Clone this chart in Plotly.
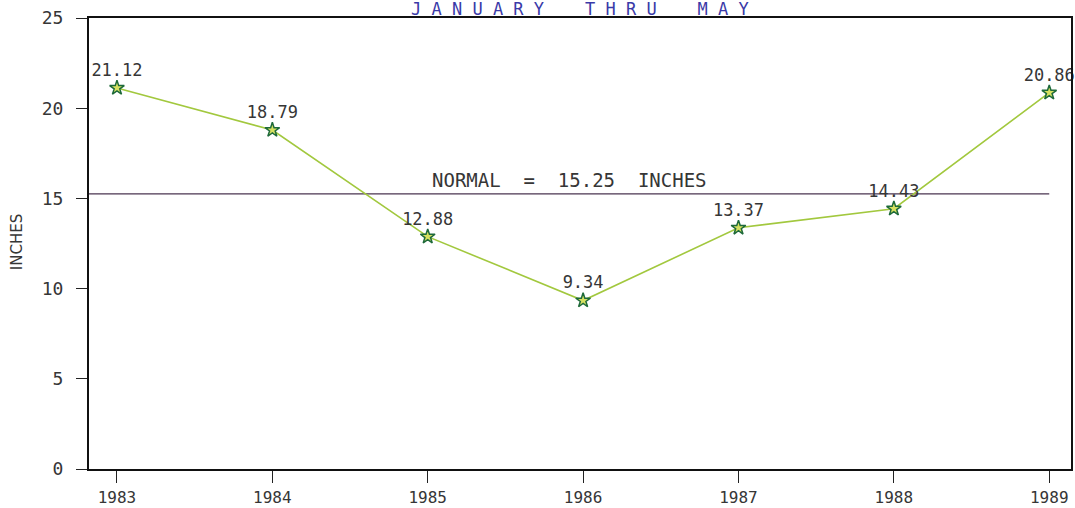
import plotly.graph_objects as go

years = ["1983", "1984", "1985", "1986", "1987", "1988", "1989"]
inches = [21.12, 18.79, 12.88, 9.34, 13.37, 14.43, 20.86]
labels = ["21.12", "18.79", "12.88", "9.34", "13.37", "14.43", "20.86"]
normal_value = 15.25
normal_label = "NORMAL  =  15.25  INCHES"
title_text = "J A N U A R Y    T H R U    M A Y"
y_ticks = [0, 5, 10, 15, 20, 25]

xi = list(range(len(years)))
mono = "DejaVu Sans Mono, Liberation Mono, monospace"
sans = "DejaVu Sans, Liberation Sans, sans-serif"
txt_color = "#363636"

fig = go.Figure()

# Normal line
fig.add_trace(go.Scatter(
    x=[-0.18, 6], y=[normal_value, normal_value], mode="lines",
    line=dict(color="#4a3550", width=1.3), hoverinfo="skip", showlegend=False,
))

fig.add_trace(go.Scatter(
    x=xi, y=inches, mode="lines+markers+text",
    line=dict(color="#a2c83e", width=1.6),
    marker=dict(symbol="star", size=11, color="#d6e060",
                line=dict(color="#1e6a3a", width=1.5)),
    text=labels, textposition="top center", cliponaxis=False,
    textfont=dict(family=mono, size=17, color=txt_color),
    showlegend=False,
))

fig.add_annotation(
    x=2.91, y=normal_value, xref="x", yref="y", text=normal_label,
    showarrow=False, yanchor="bottom", yshift=1,
    font=dict(family=mono, size=19, color=txt_color),
)

fig.add_annotation(
    x=0.5, y=1.0, xref="paper", yref="paper", text=title_text,
    showarrow=False, yanchor="bottom", yshift=-3,
    font=dict(family=mono, size=17, color="#3a3aa8"),
)

fig.add_annotation(
    x=0, y=0.503, xref="paper", yref="paper", text="INCHES",
    showarrow=False, textangle=-90, xanchor="center", xshift=-72,
    font=dict(family=sans, size=15, color=txt_color),
)

fig.update_layout(
    width=1075, height=508,
    margin=dict(l=89, r=4, t=18, b=39),
    paper_bgcolor="white", plot_bgcolor="white",
    font=dict(family=mono, color=txt_color),
)

fig.update_xaxes(
    range=[-0.18, 6.14], tickmode="array", tickvals=xi, ticktext=years,
    showgrid=False, zeroline=False, showline=True, linecolor="#111111",
    linewidth=2, mirror=True, ticks="outside", ticklen=12, tickwidth=1.2,
    tickcolor="#222222", tickfont=dict(size=16, family=mono, color=txt_color),
    ticklabelstandoff=1, automargin=False,
)
fig.update_yaxes(
    range=[0, 25], tickmode="array", tickvals=y_ticks,
    showgrid=False, zeroline=False, showline=True, linecolor="#111111",
    linewidth=2, mirror=True, ticks="outside", ticklen=11, tickwidth=1.2,
    tickcolor="#222222", tickfont=dict(size=18, family=mono, color=txt_color),
    ticklabelstandoff=9, automargin=False,
)

fig.write_html("out.html", config={"displayModeBar": False},
               post_script="document.body.style.margin='0px';")
